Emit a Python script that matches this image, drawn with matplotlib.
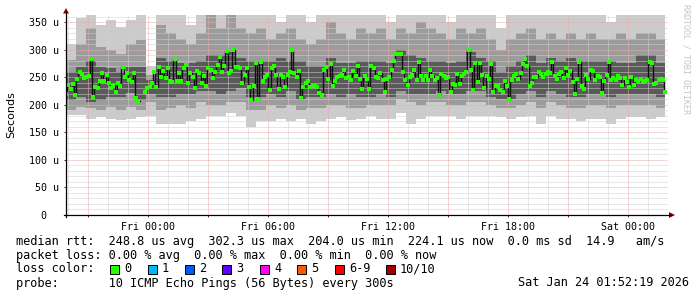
import numpy as np
import matplotlib
matplotlib.use("Agg")
import matplotlib.pyplot as plt
from matplotlib.patches import Polygon, Rectangle
from matplotlib.lines import Line2D

# hours relative to Fri 00:00 (Jan 23 2026)
t_start = -4.1
t_end = 25.87
x_right = 26.0

# median rtt (microseconds) left to right, nan = no data
median = [
    219, 236, 228, 238, 218, 247, 260, 256, 248, 250, 252, 284, 215, 233, 231, 243,
    258, 244, 255, 240, 231, 235, 224, 239, 234, 269, 251, 258, 245, 241, 258, 212, 207,
    np.nan, np.nan,
    224, 230, 232, 240, 260, 232, 269, 251, 261, 249,
    266, 244, 241, 284, 244, 257, 244, 266, 272, 240,
    258, 251, 230, 262, 258, 240, 253, 234, 266, 263,
    249, 260, 272, 287, 260, 270, 298, 258, 262, 300,
    269, 269, 267, 239, 255, 266, 232, 209, 234, 276,
    210, 277, 244, 251, 255, 226, 266, 270, 255, 228,
    255, 251, 232, 255, 260, 300, 257, 251, 262, 213,
    232, 240, 244, 232, 235, 234, 232, 222, 218, 264,
    269, 246, 274, 235, 244, 251, 253, 255, 263,
    248, 250, 245, 261, 253, 270, 246, 228, 253, 246,
    228, 270, 266, 250, 248, 258, 245, 224, 246, 251,
    263, 280, 292, 293, 292, 260, 245, 236, 251, 254,
    264, 245, 277, 252, 245, 252, 245, 264, 252, 245,
    248, 218, 256, 252, 248, 250, 224, 238, 236, 256,
    238, 252, 256, 260, 300, 263, 227, 275, 242, 275,
    254, 230, 252, 246, 274, 224, 234, 234, 226, 224,
    244, 234, 211, 245, 252, 256, 246, 258, 274, 284,
    270, 234, 240, 250, 250, 260, 256, 250, 256, 260,
    258, 278, 252, 246, 256, 260, 248, 266, 254, 262,
    241, 220, 246, 277, 234, 228, 254, 246, 263, 262,
    245, 252, 250, 222, 244, 254, 277, 245, 248, 245,
    252, 248, 236, 248, 241, 232, 250, 236, 245, 244,
    246, 241, 243, 245, 278, 275, 238, 240, 245, 246,
    245, 224,
]

# smoke envelopes, one value per 30 min column
smoke_hi1 = [311, 357, 375, 345, 354, 341, 354, 375, 270, 375,
             375, 375, 345, 375, 375, 375, 375, 375, 375, 375,
             375, 350, 375, 375, 350, 375, 375, 375, 375, 375,
             375, 375, 350, 375, 375, 375, 375, 375, 350, 375,
             375, 375, 375, 340, 375, 375, 375, 375, 375, 375,
             375, 375, 375, 375, 350, 375, 375, 375, 375, 375]
smoke_hi2 = [281, 311, 340, 305, 299, 293, 311, 317, 255, 345,
             330, 320, 310, 330, 363, 340, 363, 340, 330, 340,
             320, 330, 340, 320, 310, 320, 350, 330, 320, 340,
             330, 340, 320, 340, 330, 350, 340, 330, 320, 340,
             330, 340, 320, 300, 320, 330, 340, 320, 330, 320,
             330, 320, 330, 320, 320, 330, 320, 330, 330, 320]
smoke_hi3 = [260, 269, 280, 269, 266, 260, 269, 269, 245, 285,
             280, 275, 275, 280, 290, 290, 295, 285, 280, 280,
             280, 285, 280, 280, 270, 270, 285, 275, 275, 280,
             280, 280, 275, 300, 290, 285, 280, 280, 275, 280,
             295, 285, 280, 260, 270, 280, 290, 275, 285, 280,
             285, 280, 280, 280, 280, 275, 275, 290, 290, 275]
smoke_lo3 = [209, 215, 205, 209, 215, 215, 221, 209, 220, 215,
             215, 220, 220, 225, 225, 220, 225, 230, 215, 215,
             220, 215, 225, 210, 215, 215, 220, 215, 220, 215,
             215, 220, 215, 225, 220, 220, 220, 225, 220, 220,
             225, 225, 215, 210, 210, 220, 225, 215, 225, 220,
             215, 215, 220, 220, 215, 220, 220, 220, 220, 215]
smoke_lo2 = [190, 196, 195, 190, 196, 190, 196, 190, 205, 190,
             195, 200, 195, 205, 200, 200, 205, 205, 190, 190,
             200, 195, 200, 190, 195, 195, 200, 200, 195, 195,
             200, 200, 200, 210, 205, 200, 205, 205, 200, 200,
             205, 205, 200, 195, 195, 200, 205, 195, 205, 200,
             195, 195, 200, 200, 195, 200, 200, 200, 200, 195]
smoke_lo1 = [181, 181, 175, 178, 175, 172, 175, 178, 180, 165,
             165, 165, 170, 175, 180, 180, 185, 180, 160, 170,
             170, 175, 170, 175, 165, 170, 175, 178, 172, 175,
             180, 175, 175, 185, 166, 175, 180, 180, 180, 175,
             180, 180, 180, 178, 175, 178, 180, 165, 180, 175,
             175, 170, 175, 175, 165, 175, 178, 178, 175, 178]

ytick_vals = [0, 50, 100, 150, 200, 250, 300, 350]
ytick_labels = ["0  ", "50 u", "100 u", "150 u", "200 u", "250 u", "300 u", "350 u"]
xtick_hours = [0, 6, 12, 18, 24]
xtick_labels = ["Fri 00:00", "Fri 06:00", "Fri 12:00", "Fri 18:00", "Sat 00:00"]

loss_labels = ["0", "1", "2", "3", "4", "5", "6-9", "10/10"]
loss_colors = ["#26ff00", "#00b8ff", "#0059ff", "#5e00ff", "#ff00f5", "#ff5500", "#ff0000", "#a10000"]

stats_line = "median rtt:  248.8 us avg  302.3 us max  204.0 us min  224.1 us now  0.0 ms sd  14.9   am/s"
loss_line = "packet loss: 0.00 % avg  0.00 % max  0.00 % min  0.00 % now"
probe_line = "probe:       10 ICMP Echo Pings (56 Bytes) every 300s"
stamp = "Sat Jan 24 01:52:19 2026"

W, H = 697, 297
MONO = "DejaVu Sans Mono"


def fx(x):
    return x / W


def fy(y):
    return 1 - y / H


fig = plt.figure(figsize=(W / 100, H / 100), dpi=100)
fig.patch.set_facecolor("white")
ax = fig.add_axes([fx(66), fy(215), (668 - 66) / W, 200 / H])
ax.set_xlim(t_start, x_right)
ax.set_ylim(0, 363)
for s in ax.spines.values():
    s.set_visible(False)

# smoke
n_col = len(smoke_hi1)
t_col = t_start + 0.5 * np.arange(n_col + 1)
t_col[-1] = t_end


def ext(a):
    return np.append(a, a[-1])


ax.fill_between(t_col, ext(smoke_lo1), ext(smoke_hi1), step="post", color="#cbcbcb", lw=0, zorder=1)
ax.fill_between(t_col, ext(smoke_lo2), ext(smoke_hi2), step="post", color="#9c9c9c", lw=0, zorder=1.1)
ax.fill_between(t_col, ext(smoke_lo3), ext(smoke_hi3), step="post", color="#5a5a5a", lw=0, zorder=1.2)

# grid, dotted
dots = (0, (1, 1))
for v in range(10, 363, 10):
    major = v % 50 == 0
    ax.axhline(v, color="#f0aaaa" if major else "#d0d0d0", lw=0.72, ls=dots, zorder=2)
for h in range(-4, 26):
    major = h % 3 == 0
    ax.axvline(h, color="#f0aaaa" if major else "#d0d0d0", lw=0.72, ls=dots, zorder=2)

# median
med = np.array(median, dtype=float)
t_med = np.linspace(t_start, t_end, len(med))
ax.step(t_med, med, where="mid", color="#111111", lw=1.0, zorder=3)
ax.plot(t_med, med, ls="none", marker="s", ms=2.4, mew=0, color=loss_colors[0], zorder=4)

# ticks
ax.set_yticks(ytick_vals)
ax.set_yticklabels(ytick_labels, fontfamily=MONO, fontsize=7.2)
ax.set_xticks(xtick_hours)
ax.set_xticklabels(xtick_labels, fontfamily=MONO, fontsize=7.2)
ax.set_xticks(range(-3, 26, 3), minor=True)
ax.tick_params(axis="both", which="both", length=1.5, width=0.7, color="#333333", pad=3.5)

# axes with arrows
fig.add_artist(Line2D([fx(64), fx(671)], [fy(215), fy(215)], color="black", lw=0.9))
fig.add_artist(Line2D([fx(66), fx(66)], [fy(217), fy(12)], color="black", lw=0.9))
fig.add_artist(Polygon([(fx(63), fy(13.5)), (fx(69), fy(13.5)), (fx(66), fy(8))],
                       closed=True, color="#8b0000", lw=0))
fig.add_artist(Polygon([(fx(669), fy(212)), (fx(669), fy(218)), (fx(675), fy(215))],
                       closed=True, color="#8b0000", lw=0))

fig.text(fx(11), fy(115), "Seconds", rotation=90, ha="center", va="center", fontsize=8)
fig.text(fx(686), fy(4), "RRDTOOL / TOBI OETIKER", rotation=270, ha="center", va="top",
         fontfamily=MONO, fontsize=6, color="#c4c4c4")

# legend block
fig.text(fx(16), fy(241), stats_line, fontfamily=MONO, fontsize=8.6, va="center")
fig.text(fx(16), fy(255), loss_line, fontfamily=MONO, fontsize=8.6, va="center")
fig.text(fx(16), fy(269), "loss color:", fontfamily=MONO, fontsize=8.6, va="center")
box_x = [110, 148, 185, 222, 260, 297, 335, 386]
for bx, lab, col in zip(box_x, loss_labels, loss_colors):
    fig.add_artist(Rectangle((fx(bx), fy(273.5)), 9 / W, 9 / H, facecolor=col,
                             edgecolor="black", lw=0.7))
    fig.text(fx(bx + 14), fy(269), lab, fontfamily=MONO, fontsize=8.6, va="center")
fig.text(fx(16), fy(283), probe_line, fontfamily=MONO, fontsize=8.6, va="center")
fig.text(fx(689), fy(283), stamp, fontfamily=MONO, fontsize=8.6, va="center", ha="right")

fig.savefig("out.png", dpi=100)
